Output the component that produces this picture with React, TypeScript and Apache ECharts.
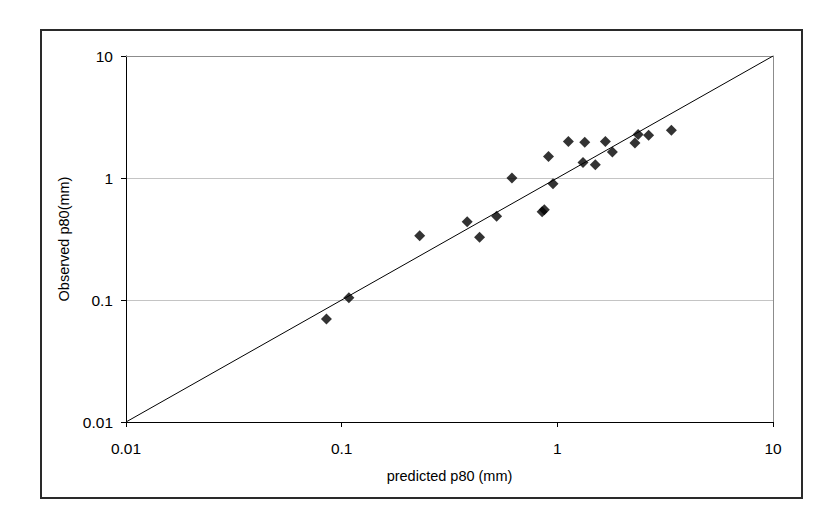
import React, { useEffect, useRef } from "react";
import * as echarts from "echarts";

const predicted = [0.085, 0.108, 0.23, 0.382, 0.436, 0.523, 0.616, 0.85, 0.87, 0.91, 0.955, 1.125, 1.34, 1.315, 1.5, 1.67, 1.8, 2.29, 2.37, 2.65, 3.38];
const observed = [0.07, 0.1045, 0.337, 0.437, 0.327, 0.486, 1.0, 0.53, 0.55, 1.5, 0.897, 1.99, 1.96, 1.34, 1.285, 1.99, 1.63, 1.94, 2.27, 2.24, 2.46];
const tickValues = [0.01, 0.1, 1, 10];
const tickLabels = ["0.01", "0.1", "1", "10"];
const lineEnds = [0.01, 10];

const FONT = "'Liberation Sans', Arial, sans-serif";

function fmt(v: number): string {
  let best = 0;
  let bestD = Infinity;
  tickValues.forEach((t, i) => {
    const d = Math.abs(Math.log10(v) - Math.log10(t));
    if (d < bestD) { bestD = d; best = i; }
  });
  return tickLabels[best];
}

export default function App() {
  const ref = useRef<HTMLDivElement>(null);
  useEffect(() => {
    if (!ref.current) return;
    const chart = echarts.init(ref.current, null, { renderer: "svg" });
    const points = predicted.map((p, i) => [p, observed[i]]);
    chart.setOption({
      animation: false,
      backgroundColor: "#ffffff",
      textStyle: { fontFamily: FONT },
      grid: { left: 126, right: 65, top: 56, bottom: 100 },
      graphic: [
        {
          type: "rect",
          shape: { x: 41, y: 30, width: 761, height: 468 },
          style: { fill: "none", stroke: "#2a2a2a", lineWidth: 2 },
          silent: true,
        },
      ],
      xAxis: [
        {
          type: "log",
          logBase: 10,
          min: 0.01,
          max: 10,
          position: "bottom",
          name: "predicted p80 (mm)",
          nameLocation: "middle",
          nameGap: 46,
          nameTextStyle: { fontSize: 14.5, color: "#000", fontFamily: FONT },
          axisLine: { lineStyle: { color: "#000", width: 1 } },
          axisTick: { show: true, length: 5, lineStyle: { color: "#000" } },
          axisLabel: { fontSize: 15.5, color: "#000", margin: 18, fontFamily: FONT, formatter: fmt },
          splitLine: { show: false },
          minorTick: { show: false },
        },
        {
          type: "log",
          logBase: 10,
          min: 0.01,
          max: 10,
          position: "top",
          axisLine: { lineStyle: { color: "#8c8c8c", width: 1 } },
          axisTick: { show: false },
          axisLabel: { show: false },
          splitLine: { show: false },
        },
      ],
      yAxis: [
        {
          type: "log",
          logBase: 10,
          min: 0.01,
          max: 10,
          position: "left",
          name: "Observed p80(mm)",
          nameLocation: "middle",
          nameGap: 53,
          nameTextStyle: { fontSize: 14.5, color: "#000", fontFamily: FONT },
          axisLine: { lineStyle: { color: "#000", width: 1 } },
          axisTick: { show: true, length: 5, lineStyle: { color: "#000" } },
          axisLabel: { fontSize: 15.5, color: "#000", margin: 13, fontFamily: FONT, formatter: fmt },
          splitLine: { show: true, lineStyle: { color: "#c4c4c4", width: 1 } },
        },
        {
          type: "log",
          logBase: 10,
          min: 0.01,
          max: 10,
          position: "right",
          axisLine: { show: true, lineStyle: { color: "#8c8c8c", width: 1 } },
          axisTick: { show: false },
          axisLabel: { show: false },
          splitLine: { show: false },
        },
      ],
      series: [
        {
          type: "line",
          xAxisIndex: 0,
          yAxisIndex: 0,
          data: lineEnds.map((v) => [v, v]),
          showSymbol: false,
          symbol: "none",
          lineStyle: { color: "#000", width: 1 },
          silent: true,
          z: 2,
        },
        {
          type: "scatter",
          xAxisIndex: 0,
          yAxisIndex: 0,
          data: points,
          symbol: "diamond",
          symbolSize: 11,
          itemStyle: { color: "#000" },
          z: 3,
        },
      ],
    });
    return () => chart.dispose();
  }, []);
  return (
    <div
      ref={ref}
      style={{ position: "fixed", left: 0, top: 0, width: 838, height: 522, background: "#fff" }}
    />
  );
}
